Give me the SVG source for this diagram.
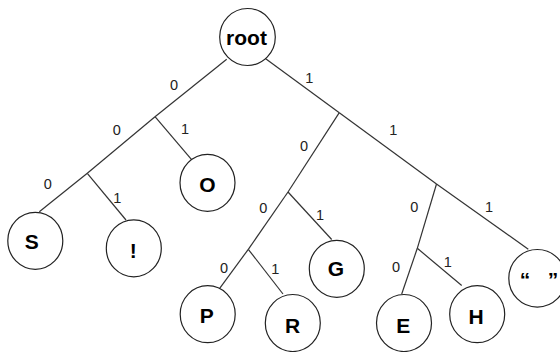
<svg xmlns="http://www.w3.org/2000/svg" width="560" height="352" viewBox="0 0 560 352">
<style>
.node ellipse{fill:#fff;stroke:#222;stroke-width:1.2}
.node text{font-family:"Liberation Sans",Arial,sans-serif;font-weight:bold;font-size:21px;fill:#000;text-anchor:middle}
.edges line{stroke:#333;stroke-width:1.2}
.lbl{font-family:"Liberation Sans",Arial,sans-serif;font-size:14.5px;fill:#222;text-anchor:middle}
</style>
<rect width="560" height="352" fill="#fff"/>
<g id="connectors" class="edges">
<line x1="226.7" y1="59.3" x2="155" y2="116.7"/>
<line x1="155" y1="116.7" x2="87.3" y2="173.3"/>
<line x1="87.3" y1="173.3" x2="39.3" y2="211.7"/>
<line x1="155" y1="116.7" x2="193.3" y2="161.7"/>
<line x1="87.3" y1="173.3" x2="126" y2="220"/>
<line x1="265" y1="58.3" x2="339.3" y2="112.7"/>
<line x1="339.3" y1="112.7" x2="436.5" y2="184"/>
<line x1="436.5" y1="184" x2="528.3" y2="249.3"/>
<line x1="339.3" y1="112.7" x2="288" y2="192"/>
<line x1="288" y1="192" x2="248.3" y2="249.3"/>
<line x1="248.3" y1="249.3" x2="217.3" y2="291.7"/>
<line x1="288" y1="192" x2="331.7" y2="239.5"/>
<line x1="248.3" y1="249.3" x2="283" y2="294"/>
<line x1="436.5" y1="184" x2="417.3" y2="248.3"/>
<line x1="417.3" y1="248.3" x2="401.7" y2="294"/>
<line x1="417.3" y1="248.3" x2="461.7" y2="285.5"/>
<g id="edge-labels" class="lbl">
<text x="174" y="90.2">0</text>
<text x="116.7" y="135.2">0</text>
<text x="185" y="133.7">1</text>
<text x="47.7" y="189.2">0</text>
<text x="117.3" y="202.5">1</text>
<text x="263.3" y="212.5">0</text>
<text x="224" y="272.5">0</text>
<text x="275.3" y="273.5">1</text>
<text x="309.3" y="82.5">1</text>
<text x="393.3" y="135.2">1</text>
<text x="304" y="151.2">0</text>
<text x="320" y="219.5">1</text>
<text x="414.3" y="211.9">0</text>
<text x="489" y="211.9">1</text>
<text x="396" y="271.9">0</text>
<text x="447.7" y="266.9">1</text>
</g>
</g>
<g id="node-root" class="node"><ellipse cx="247.5" cy="37" rx="27.8" ry="28.5"/><text x="246.5" y="45">root</text></g>
<g id="node-O" class="node"><ellipse cx="207.5" cy="182.8" rx="27.5" ry="28.5"/><text x="207.3" y="191.5">O</text></g>
<g id="node-S" class="node"><ellipse cx="35.3" cy="240.8" rx="27.5" ry="28.5"/><text x="31.7" y="249.3">S</text></g>
<g id="node-excl" class="node"><ellipse cx="133.8" cy="248.3" rx="27.5" ry="28.5"/><text x="133.3" y="257.5">!</text></g>
<g id="node-P" class="node"><ellipse cx="207.7" cy="314.2" rx="27.5" ry="28.5"/><text x="206.7" y="322.5">P</text></g>
<g id="node-R" class="node"><ellipse cx="292.8" cy="323" rx="27.5" ry="28.5"/><text x="292.7" y="332.5">R</text></g>
<g id="node-G" class="node"><ellipse cx="336.8" cy="268.8" rx="27.5" ry="28.5"/><text x="336" y="275.5">G</text></g>
<g id="node-E" class="node"><ellipse cx="404" cy="323" rx="27.5" ry="28.5"/><text x="403.3" y="332.5">E</text></g>
<g id="node-H" class="node"><ellipse cx="477.2" cy="314.2" rx="27.5" ry="28.5"/><text x="476" y="323.5">H</text></g>
<g id="node-space" class="node"><ellipse cx="537.3" cy="278.3" rx="28.5" ry="28.8"/><text x="539" y="287" xml:space="preserve">“   ”</text></g>
</svg>
